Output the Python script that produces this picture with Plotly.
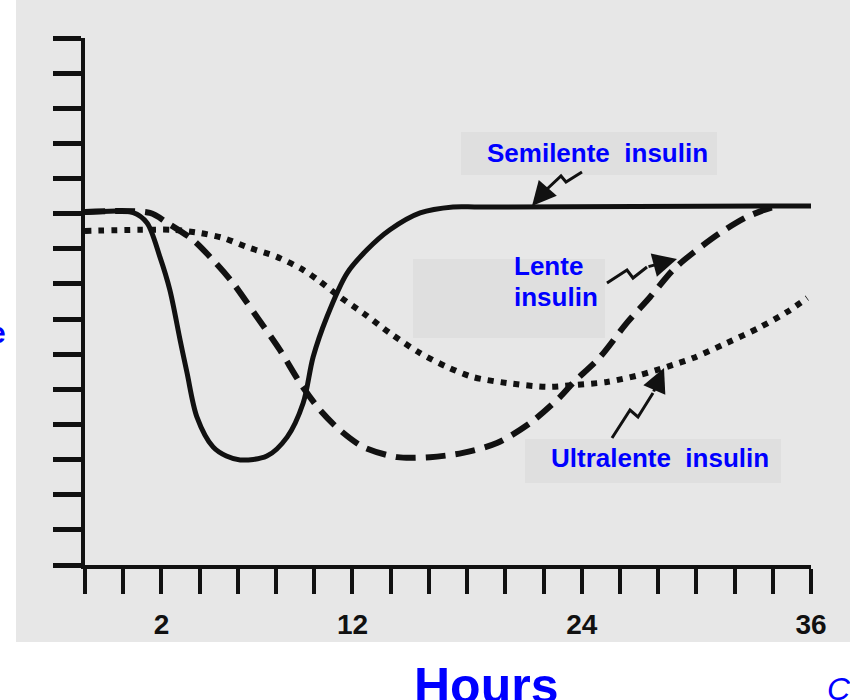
import plotly.graph_objects as go

# ---- data (x in axis-tick units 0..19, y in axis-tick units 0..15) ----
semilente_x = [0, 1.26, 1.62, 1.96, 2.22, 2.49, 2.67, 2.93, 3.35, 3.70, 4.06, 4.76, 5.29, 5.71, 5.97, 6.33, 6.86, 7.38, 7.98, 8.77, 9.63, 10.34, 19.0]
semilente_y = [10.03, 10.03, 9.74, 8.77, 7.83, 6.40, 5.47, 4.21, 3.36, 3.10, 2.99, 3.10, 3.64, 4.61, 5.92, 7.06, 8.31, 8.97, 9.54, 10.02, 10.19, 10.19, 10.22]

lente_x = [0, 1.70, 2.15, 2.83, 3.35, 3.87, 4.50, 5.10, 5.63, 6.15, 6.67, 7.28, 8.17, 9.03, 9.89, 10.78, 11.65, 12.43, 12.77, 13.48, 14.18, 14.79, 15.39, 15.91, 16.62, 17.33, 17.93, 18.2]
lente_y = [10.05, 10.02, 9.74, 9.25, 8.68, 8.03, 7.06, 6.12, 5.18, 4.41, 3.84, 3.36, 3.07, 3.07, 3.19, 3.47, 4.04, 4.78, 5.18, 5.92, 6.89, 7.63, 8.40, 8.88, 9.45, 9.91, 10.16, 10.2]

ultralente_x = [0, 1.44, 2.30, 3.01, 3.61, 4.24, 5.02, 5.71, 6.10, 6.67, 7.28, 7.98, 8.77, 9.47, 10.15, 11.04, 12.09, 12.77, 13.66, 14.52, 15.23, 15.91, 16.80, 17.67, 18.37, 18.90]
ultralente_y = [9.51, 9.54, 9.54, 9.45, 9.31, 9.05, 8.77, 8.40, 8.11, 7.63, 7.17, 6.60, 6.03, 5.64, 5.35, 5.18, 5.07, 5.12, 5.21, 5.41, 5.64, 5.89, 6.32, 6.77, 7.20, 7.60]

x_tickvals = list(range(20))
x_ticktext = ["", "", "2", "", "", "", "", "12", "", "", "", "", "", "24", "", "", "", "", "", "36"]
y_tickvals = list(range(16))

BG = "#e7e7e7"
BOX = "#dfdfdf"
INK = "#111111"
BLUE = "#0000ff"

# plot area in pixels: x 85..811, y 38..565
L, R, T, B = 85, 811, 38, 565
def px(x):
    return (x - L) / (R - L)
def py(y):
    return (B - y) / (B - T)

fig = go.Figure()
fig.add_trace(go.Scatter(x=ultralente_x, y=ultralente_y, mode="lines", line=dict(color=INK, width=6, dash="6px,7px", shape="spline", smoothing=0.8), hoverinfo="skip"))
fig.add_trace(go.Scatter(x=lente_x, y=lente_y, mode="lines", line=dict(color=INK, width=6, dash="20px,10px", shape="spline", smoothing=0.8), hoverinfo="skip"))
fig.add_trace(go.Scatter(x=semilente_x, y=semilente_y, mode="lines", line=dict(color=INK, width=5, shape="spline", smoothing=0.9), hoverinfo="skip"))

shapes = [
    # white margins outside the scanned figure
    dict(type="rect", xref="paper", yref="paper", x0=px(-5), x1=px(16), y0=py(-5), y1=py(705), fillcolor="white", line=dict(width=0), layer="below"),
    dict(type="rect", xref="paper", yref="paper", x0=px(-5), x1=px(855), y0=py(642), y1=py(705), fillcolor="white", line=dict(width=0), layer="below"),
    # label boxes
    dict(type="rect", xref="paper", yref="paper", x0=px(461), x1=px(717), y0=py(175), y1=py(132), fillcolor=BOX, line=dict(width=0), layer="below"),
    dict(type="rect", xref="paper", yref="paper", x0=px(413), x1=px(605), y0=py(338), y1=py(259), fillcolor=BOX, line=dict(width=0), layer="below"),
    dict(type="rect", xref="paper", yref="paper", x0=px(525), x1=px(781), y0=py(483), y1=py(439), fillcolor=BOX, line=dict(width=0), layer="below"),
]

def zig(points):
    d = "M " + " L ".join(f"{px(a):.5f},{py(b):.5f}" for a, b in points)
    return dict(type="path", xref="paper", yref="paper", path=d, line=dict(color=INK, width=3), layer="above")

shapes += [
    zig([(582, 172), (566, 182), (561, 176), (546, 190)]),
    zig([(607, 283), (627, 270), (633, 278), (647, 267)]),
    zig([(612, 438), (630, 410), (638, 417), (653, 393)]),
]

ann = []
def arrow(tip, tail):
    ann.append(dict(xref="paper", yref="paper", x=px(tip[0]), y=py(tip[1]), ax=tail[0] - tip[0], ay=tail[1] - tip[1],
                    axref="pixel", ayref="pixel", text="", showarrow=True, arrowhead=2, arrowsize=1.6, arrowwidth=3, arrowcolor=INK))
arrow((532, 206), (546, 190))
arrow((677, 259), (647, 267))
arrow((664, 368), (653, 393))

lab_font = dict(family="Liberation Sans, Arial, sans-serif", size=26, color=BLUE, weight="bold")
def label(text, x, y_baseline, size=26):
    ann.append(dict(xref="paper", yref="paper", x=px(x), y=py(y_baseline), text=text, showarrow=False,
                    xanchor="left", yanchor="bottom", yshift=-size * 0.21 - 1, font=dict(lab_font, size=size), borderpad=0))

label("Semilente\u00a0\u00a0insulin", 486, 163)
label("Lente", 513, 276)
label("insulin", 513, 307)
label("Ultralente\u00a0\u00a0insulin", 550, 468)

ann.append(dict(xref="paper", yref="paper", x=px(413), y=py(704), text="Hours", showarrow=False, xanchor="left", yanchor="bottom",
                yshift=-11, font=dict(family="Liberation Sans, Arial, sans-serif", size=50, color=BLUE, weight="bold"), borderpad=0))
ann.append(dict(xref="paper", yref="paper", x=px(826), y=py(670), text="C", showarrow=False, xanchor="left", yanchor="top",
                font=dict(family="Liberation Sans, Arial, sans-serif", size=32, color=BLUE, style="italic"), borderpad=0))
ann.append(dict(xref="paper", yref="paper", x=px(7), y=py(332), text="e", showarrow=False, xanchor="right", yanchor="middle",
                font=dict(family="Liberation Sans, Arial, sans-serif", size=30, color=BLUE, weight="bold"), borderpad=0))

fig.update_layout(
    width=850, height=700,
    margin=dict(l=L, r=850 - R, t=T, b=700 - B, pad=0),
    paper_bgcolor=BG, plot_bgcolor=BG,
    showlegend=False, hovermode=False,
    shapes=shapes, annotations=ann,
    xaxis=dict(range=[0, 19], tickvals=x_tickvals, ticktext=x_ticktext, ticks="outside", ticklen=25, tickwidth=4, tickcolor=INK,
               showline=True, linewidth=4, linecolor=INK, showgrid=False, zeroline=False, fixedrange=True,
               ticklabelstandoff=6,
               tickfont=dict(family="Liberation Sans Narrow, Arial Narrow, Liberation Sans, sans-serif", size=28, color=INK, weight="bold")),
    yaxis=dict(range=[0, 15], tickvals=y_tickvals, showticklabels=False, ticks="outside", ticklen=28, tickwidth=5, tickcolor=INK,
               showline=True, linewidth=4, linecolor=INK, showgrid=False, zeroline=False, fixedrange=True),
)

fig.write_html("out.html", config=dict(displayModeBar=False),
               post_script="document.body.style.margin='0px';document.body.style.overflow='hidden';")
